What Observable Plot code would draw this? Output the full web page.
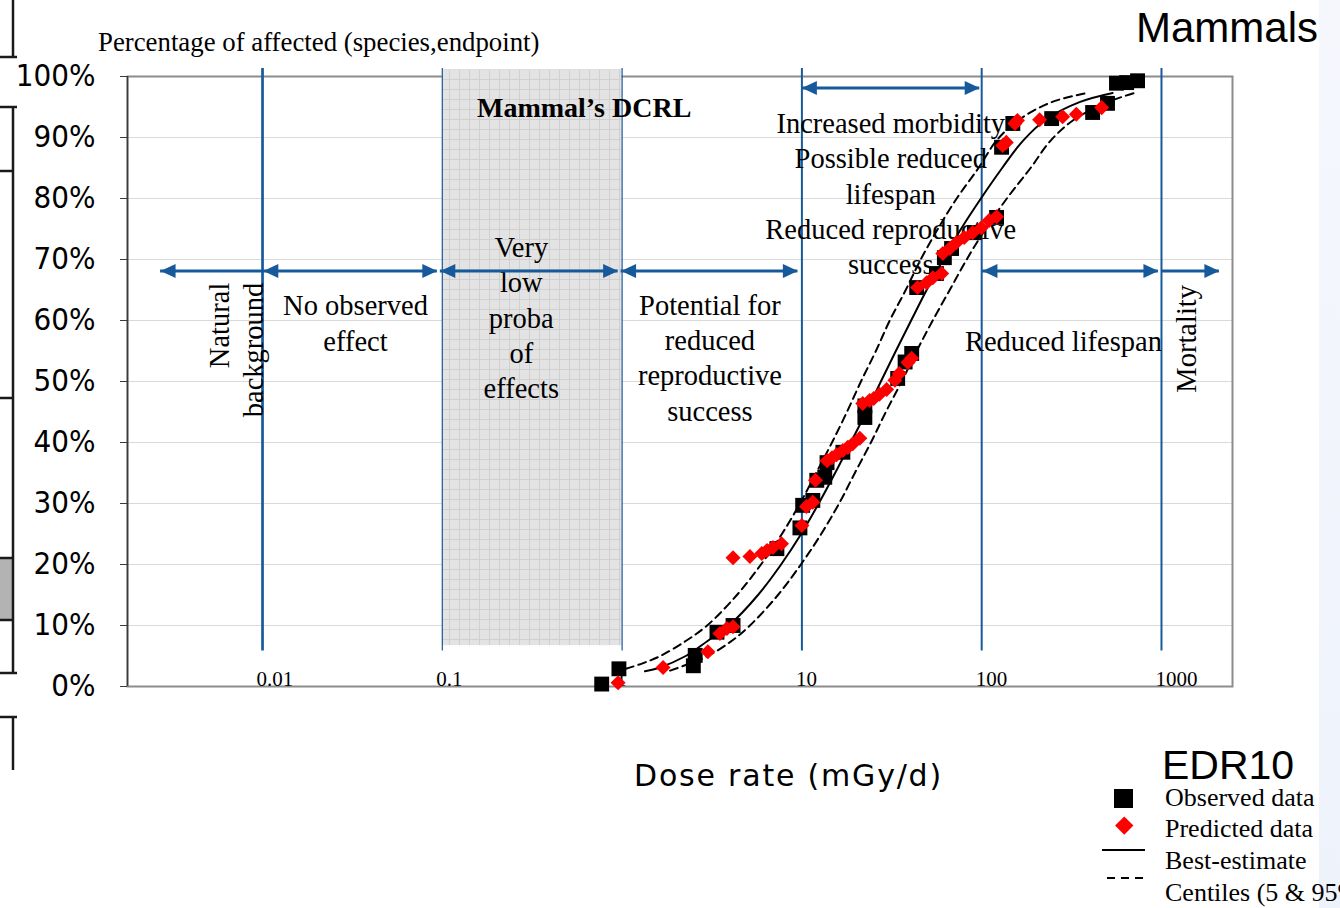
<!DOCTYPE html>
<html><head><meta charset="utf-8">
<script src="https://cdn.jsdelivr.net/npm/d3@7"></script>
<script src="https://cdn.jsdelivr.net/npm/@observablehq/plot@0.6"></script>
<style>
html,body{margin:0;padding:0;background:#fff;}
body{width:1340px;height:908px;overflow:hidden;position:relative;}
.abs{position:absolute;white-space:nowrap;line-height:0;}
.serif{font-family:"Liberation Serif","Times New Roman",Times,serif;color:#000;}
.sans{font-family:"Liberation Sans",Arial,Helvetica,sans-serif;color:#000;}
</style></head><body>
<div style="position:absolute;left:1319px;top:0;width:21px;height:908px;background:linear-gradient(#f5f7fd,#eef2fb)"></div>
<svg style="position:absolute;left:0;top:0" width="22" height="770">
  <g stroke="#1a1a1a" stroke-width="2.5" fill="none">
    <line x1="13" y1="0" x2="13" y2="57"/><line x1="0" y1="57" x2="17" y2="57"/>
    <rect x="0" y="558" width="13" height="62" fill="#b3b3b3" stroke="none"/>
    <line x1="0" y1="107" x2="17" y2="107"/><line x1="13" y1="107" x2="13" y2="673"/>
    <line x1="0" y1="171" x2="13" y2="171"/><line x1="0" y1="398" x2="13" y2="398"/>
    <line x1="0" y1="558" x2="13" y2="558"/><line x1="0" y1="620" x2="13" y2="620"/>
    <line x1="0" y1="673" x2="17" y2="673"/>
    <line x1="0" y1="717" x2="17" y2="717"/><line x1="13" y1="717" x2="13" y2="770"/>
  </g>
</svg>
<div id="chart" style="position:absolute;left:0;top:0"></div>
<div class="abs sans" style="left:1136px;top:28.4px;font-size:42px">Mammals</div>
<div class="abs serif" style="left:98px;top:41.5px;font-size:26.8px">Percentage of affected (species,endpoint)</div>
<div class="abs" style="left:634px;top:775.6px;font-size:30px;letter-spacing:1.8px;font-family:'DejaVu Sans',Verdana,sans-serif;color:#000">Dose rate (mGy/d)</div>
<div class="abs sans" style="left:1162px;top:764.8px;font-size:41px">EDR10</div>
<div style="position:absolute;left:1114px;top:789px;width:19px;height:19px;background:#000"></div>
<div style="position:absolute;left:1118px;top:819px;width:12.5px;height:12.5px;background:#ff0000;transform:rotate(45deg)"></div>
<div style="position:absolute;left:1102px;top:849px;width:43px;height:2px;background:#000"></div>
<div style="position:absolute;left:1107px;top:877px;width:42px;height:2px;background:repeating-linear-gradient(to right,#000 0 8px,transparent 8px 14px)"></div>
<div class="abs serif" style="left:1165px;top:798.2px;font-size:26px">Observed data</div>
<div class="abs serif" style="left:1165px;top:829.2px;font-size:26px">Predicted data</div>
<div class="abs serif" style="left:1165px;top:861.2px;font-size:26px">Best-estimate</div>
<div class="abs serif" style="left:1165px;top:893.2px;font-size:26px">Centiles (5 &amp; 95%)</div>
<script>
// ---- data ----
const xTickValues = [0.01, 0.1, 1, 10, 100, 1000];
const xTickLabels = ["0.01", "0.1", "1", "10", "100", "1000"];
const yTickValues = [0, 10, 20, 30, 40, 50, 60, 70, 80, 90, 100];
const zoneBounds = [0.01, 0.1, 1, 10, 100, 1000];

const obsDose = [0.77, 0.96, 2.49, 2.55, 3.37, 4.14, 7.26, 9.75, 10.1, 11.5, 12.1, 13.4, 13.8, 16.9, 22.4, 22.4, 34.1, 37.5, 40.8, 43.5, 56, 62, 68, 91, 121, 129, 149, 245, 414, 501, 562, 640, 736];
const obsPct  = [0.4, 2.9, 3.4, 5.1, 8.9, 10.0, 22.6, 26.0, 29.7, 30.5, 33.8, 34.3, 36.7, 38.4, 44.1, 46.0, 50.5, 53.2, 54.6, 65.4, 67.7, 70.3, 71.8, 74.4, 76.9, 88.4, 92.3, 93.1, 94.1, 95.6, 98.9, 99.0, 99.3];

const predDose = [0.95, 1.69, 3.0, 3.5, 3.83, 4.14, 4.14, 5.14, 5.98, 6.4, 6.9, 7.7, 10.0, 10.6, 11.5, 11.9, 13.8, 14.7, 15.6, 16.9, 18.0, 19.2, 21.0, 21.8, 23.8, 25.1, 27.0, 29.6, 32.9, 34.8, 38.9, 40.8, 44, 49.4, 53.5, 59.9, 60.8, 66.4, 72.5, 80, 89, 99.6, 110, 121, 131, 137, 153, 158, 210, 282, 336, 465];
const predPct  = [0.6, 3.1, 5.7, 8.7, 9.5, 9.8, 21.1, 21.3, 21.8, 22.3, 22.8, 23.4, 26.4, 29.5, 30.2, 33.8, 37.0, 37.5, 38.0, 38.7, 39.2, 39.8, 40.7, 46.4, 46.9, 47.2, 47.9, 48.7, 50.2, 51.3, 53.1, 53.8, 65.4, 66.2, 67.0, 67.7, 71.0, 71.8, 72.8, 73.6, 74.4, 75.2, 76.4, 77.0, 88.7, 89.2, 92.3, 92.8, 92.9, 93.4, 93.8, 94.9];

const bestDose = [1.34, 1.58, 2.26, 3.0, 3.93, 5.7, 7.66, 9.9, 12.4, 15.3, 18.7, 22.8, 27.5, 33.3, 40.5, 49.4, 61, 76.7, 99, 130, 170, 229, 350, 535];
const bestPct  = [2.5, 3.0, 5, 7.5, 10, 15, 20, 25, 30, 35, 40, 45, 50, 55, 60, 65, 70, 75, 80, 85, 89.5, 93, 95.8, 97.3];
const upperDose = [1.05, 1.3, 1.63, 2.27, 2.97, 4.35, 5.92, 7.74, 9.75, 12.0, 14.7, 17.8, 21.3, 25.8, 30.8, 37.8, 45.8, 57, 72.6, 96, 121, 163, 245, 373];
const upperPct  = [2.9, 3.8, 5, 7.5, 10, 15, 20, 25, 30, 35, 40, 45, 50, 55, 60, 65, 70, 75, 80, 85, 89.5, 93, 95.8, 97.2];
const lowerDose = [1.85, 2.3, 3.0, 4.08, 5.14, 7.36, 9.87, 12.8, 16.1, 19.7, 24.2, 29.3, 35.9, 43.5, 53.4, 66.4, 82.5, 105, 138, 187, 242, 329, 501, 727];
const lowerPct  = [2.6, 3.6, 5, 7.5, 10, 15, 20, 25, 30, 35, 40, 45, 50, 55, 60, 65, 70, 75, 80, 85, 89.5, 93, 95.8, 97.4];

// effect-zone arrows (dose from, dose to, level in %)
const arrowFrom  = [0.00271, 0.0101, 0.0975, 0.987, 101, 1000, 10];
const arrowTo    = [0.01, 0.0938, 0.95, 9.5, 962, 2099, 97.5];
const arrowLevel = [68.1, 68.1, 68.1, 68.1, 68.1, 68.1, 98.1];
const arrowHeads = ["left", "both", "both", "both", "both", "right", "both"];

const zoneNoteText = ["No observed\neffect", "Very\nlow\nproba\nof\neffects", "Potential for\nreduced\nreproductive\nsuccess", "Increased morbidity\nPossible reduced\nlifespan\nReduced reproductive\nsuccess", "Reduced lifespan"];
const zoneNoteDose = [0.0329, 0.275, 3.08, 31.2, 285];
const zoneNotePct  = [59.8, 60.7, 54.1, 81.0, 56.9];

// ---- build ----
const blue = "#175a9c";
const serif = "'Liberation Serif','Times New Roman',Times,serif";
const zip = (xs, ys) => xs.map((x, i) => ({dose: x, pct: ys[i]}));
const observed = zip(obsDose, obsPct);
const predicted = zip(predDose, predPct);
const best = zip(bestDose, bestPct);
const upper = zip(upperDose, upperPct);
const lower = zip(lowerDose, lowerPct);
const arrows = arrowFrom.map((f, i) => ({from: f, to: arrowTo[i], level: arrowLevel[i], heads: arrowHeads[i]}));
const heads = [];
arrows.forEach(a => {
  if (a.heads !== "right") heads.push({x: a.from, y: a.level, rot: 180});
  if (a.heads !== "left") heads.push({x: a.to, y: a.level, rot: 0});
});
const notes = zoneNoteText.map((t, i) => ({text: t, x: zoneNoteDose[i], y: zoneNotePct[i]}));
const ticks = xTickValues.map((v, i) => ({v, label: xTickLabels[i]}));
const arrowHead = {draw(ctx) { ctx.moveTo(0, 0); ctx.lineTo(-15, -7); ctx.lineTo(-15, 7); ctx.closePath(); }};
const zoneLineWidths = [2.7, 1.2, 1.2, 2, 2, 2];

const plot = Plot.plot({
  width: 1340, height: 908,
  marginLeft: 127, marginRight: 108, marginTop: 76, marginBottom: 222,
  x: {type: "log", domain: [Math.pow(10, -2.751), Math.pow(10, 3.395)], axis: null},
  y: {domain: [0, 100], axis: null},
  style: {background: "transparent", overflow: "visible"},
  marks: [
    Plot.gridY(yTickValues, {stroke: "#d9d9d9", strokeOpacity: 1, strokeWidth: 1}),
    Plot.frame({stroke: "#8c8c8c", strokeWidth: 2}),
    Plot.rect([{a: 0.1, b: 1, lo: 6.7, hi: 101.1}], {x1: "a", x2: "b", y1: "lo", y2: "hi", fill: "url(#dcrlGrid)"}),
    Plot.ruleX([Math.pow(10, -2.751)], {y1: 0, y2: 100, stroke: "#3a3a3a", strokeWidth: 1.5}),
    Plot.axisY(yTickValues, {tickSize: 7, tickPadding: 25, tickFormat: d => d + "%", fontSize: 31,
      fontFamily: "'DejaVu Sans Condensed','DejaVu Sans',Verdana,sans-serif", stroke: "#3a3a3a", fill: "#000", label: null}),
    ...zoneBounds.map((b, i) => Plot.ruleX([b], {y1: 5.8, y2: 101.3, stroke: blue, strokeWidth: zoneLineWidths[i]})),
    Plot.text(ticks, {x: "v", y: 0, text: "label", textAnchor: "start", dx: -6, dy: -7, lineAnchor: "middle", fontSize: 21, fontFamily: serif, fill: "#000"}),
    Plot.text(notes, {x: "x", y: "y", text: "text", fontSize: 28.5, fontFamily: serif, lineHeight: 1.24, lineAnchor: "middle", textAnchor: "middle", fill: "#000"}),
    Plot.text(["Mammal\u2019s DCRL"], {x: 0.615, y: 94.8, text: d => d, fontSize: 28, fontWeight: "bold", fontFamily: serif, lineAnchor: "middle", fill: "#000"}),
    Plot.text(["Natural\nbackground"], {x: 0.00708, y: 66.2, text: d => d, rotate: -90, textAnchor: "end", lineAnchor: "middle", lineHeight: 1.19, fontSize: 28.5, fontFamily: serif, fill: "#000"}),
    Plot.text(["Mortality"], {x: 1393, y: 57.0, text: d => d, rotate: -90, textAnchor: "middle", lineAnchor: "middle", fontSize: 28.5, fontFamily: serif, fill: "#000"}),
    Plot.ruleY(arrows, {x1: "from", x2: "to", y: "level", stroke: blue, strokeWidth: 3}),
    Plot.dot(heads, {x: "x", y: "y", rotate: "rot", symbol: arrowHead, fill: blue, stroke: "none"}),
    Plot.line(upper, {x: "dose", y: "pct", stroke: "#000", strokeWidth: 2, strokeDasharray: "8,5", curve: "catmull-rom"}),
    Plot.line(lower, {x: "dose", y: "pct", stroke: "#000", strokeWidth: 2, strokeDasharray: "8,5", curve: "catmull-rom"}),
    Plot.line(best, {x: "dose", y: "pct", stroke: "#000", strokeWidth: 2, curve: "catmull-rom"}),
    Plot.dot(observed, {x: "dose", y: "pct", symbol: "square", r: 8.4, fill: "#000", stroke: "none"}),
    Plot.dot(predicted, {x: "dose", y: "pct", symbol: "square", rotate: 45, r: 6.0, fill: "#ff0000", stroke: "none"})
  ]
});
const ns = "http://www.w3.org/2000/svg";
const defs = document.createElementNS(ns, "defs");
defs.innerHTML = '<pattern id="dcrlGrid" width="10" height="10" patternUnits="userSpaceOnUse">' +
  '<rect width="10" height="10" fill="#e3e3e3"/>' +
  '<path d="M9.5 0V10M0 9.5H10" stroke="#d0d0d0" stroke-width="1"/></pattern>';
plot.insertBefore(defs, plot.firstChild);
document.getElementById("chart").appendChild(plot);
</script>
</body></html>
